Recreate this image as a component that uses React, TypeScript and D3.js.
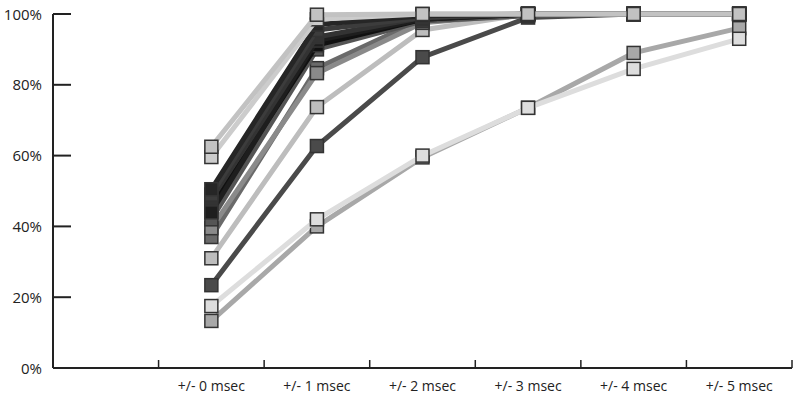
import React, { useEffect, useRef } from 'react';
import * as d3 from 'd3';

const categories = ['', '+/- 0 msec', '+/- 1 msec', '+/- 2 msec', '+/- 3 msec', '+/- 4 msec', '+/- 5 msec'];
const pointCategories = categories.slice(1);
const yTicks = [0, 20, 40, 60, 80, 100];

// one entry per run, values in % for 0..5 msec
const seriesColors = [
  '#a8a8a8', '#4a4a4a', '#bdbdbd', '#6a6a6a', '#8a8a8a',
  '#555555', '#111111', '#1e1e1e', '#333333', '#3c3c3c', '#262626',
  '#cccccc', '#c2c2c2', '#dddddd',
];
const seriesValues = [
  [13.3, 40, 59.5, 73.5, 89, 96],
  [23.4, 62.7, 87.8, 99, 100, 100],
  [31, 73.7, 95.5, 100, 100, 100],
  [37, 84.7, 98.5, 100, 100, 100],
  [39.5, 83.3, 97.5, 100, 100, 100],
  [42, 90, 98, 99.5, 100, 100],
  [45.5, 91.2, 98.5, 100, 100, 100],
  [44, 92.5, 98.5, 100, 100, 100],
  [47.7, 93.5, 99, 100, 100, 100],
  [49, 95.5, 99, 100, 100, 100],
  [50.5, 97, 99.5, 100, 100, 100],
  [59.6, 98.5, 100, 100, 100, 100],
  [62.5, 99.8, 100, 100, 100, 100],
  [17.5, 42, 60, 73.5, 84.5, 93],
];

const W = 800;
const H = 404;
const FONT = '"Open Sans", sans-serif';

export default function App() {
  const svgRef = useRef<SVGSVGElement>(null);

  useEffect(() => {
    const svg = d3.select(svgRef.current);
    svg.selectAll('*').remove();

    const x = d3.scaleBand().domain(categories).range([53, 792]);
    const y = d3.scaleLinear().domain([0, 100]).range([368, 14]);
    const cx = (c: string) => (x(c) as number) + x.bandwidth() / 2;

    // y axis
    svg.append('line')
      .attr('x1', 53).attr('x2', 53)
      .attr('y1', y(100)).attr('y2', y(0))
      .attr('stroke', '#222').attr('stroke-width', 2);
    svg.selectAll('.ytick')
      .data(yTicks.filter(t => t > 0))
      .enter().append('line')
      .attr('x1', 53).attr('x2', 71)
      .attr('y1', d => y(d)).attr('y2', d => y(d))
      .attr('stroke', '#222').attr('stroke-width', 2);
    svg.selectAll('.ylab')
      .data(yTicks)
      .enter().append('text')
      .attr('x', 42)
      .attr('y', d => y(d) + 5.5)
      .attr('text-anchor', 'end')
      .style('font-family', FONT)
      .style('font-size', '15px')
      .style('fill', '#222')
      .text(d => d + '%');

    // x axis
    svg.append('line')
      .attr('x1', 53).attr('x2', 792)
      .attr('y1', y(0)).attr('y2', y(0))
      .attr('stroke', '#222').attr('stroke-width', 2);
    svg.selectAll('.xtick')
      .data(categories.slice(1))
      .enter().append('line')
      .attr('x1', d => x(d) as number).attr('x2', d => x(d) as number)
      .attr('y1', y(0)).attr('y2', y(0) - 8)
      .attr('stroke', '#222').attr('stroke-width', 1.5);
    svg.append('line')
      .attr('x1', 792).attr('x2', 792)
      .attr('y1', y(0)).attr('y2', y(0) - 8)
      .attr('stroke', '#222').attr('stroke-width', 1.5);
    svg.selectAll('.xlab')
      .data(pointCategories)
      .enter().append('text')
      .attr('x', d => cx(d))
      .attr('y', 391)
      .attr('text-anchor', 'middle')
      .style('font-family', FONT)
      .style('font-size', '14px')
      .style('fill', '#222')
      .text(d => d);

    const line = d3.line<number>()
      .x((_, i) => cx(pointCategories[i]))
      .y(d => y(d));

    const groups = svg.selectAll('.series')
      .data(seriesValues)
      .enter().append('g');

    groups.append('path')
      .attr('d', d => line(d))
      .attr('fill', 'none')
      .attr('stroke', (_, i) => seriesColors[i])
      .attr('stroke-width', 5);

    groups.selectAll('rect')
      .data((d, i) => d.map(v => ({ v, c: seriesColors[i] })))
      .enter().append('rect')
      .attr('x', (_, j) => cx(pointCategories[j]) - 6.5)
      .attr('y', d => y(d.v) - 6.5)
      .attr('width', 13)
      .attr('height', 13)
      .attr('fill', d => d.c)
      .attr('stroke', '#333')
      .attr('stroke-width', 1.5);
  }, []);

  return (
    <svg
      ref={svgRef}
      width={W}
      height={H}
      style={{ position: 'fixed', left: 0, top: 0, background: '#fff' }}
    />
  );
}
